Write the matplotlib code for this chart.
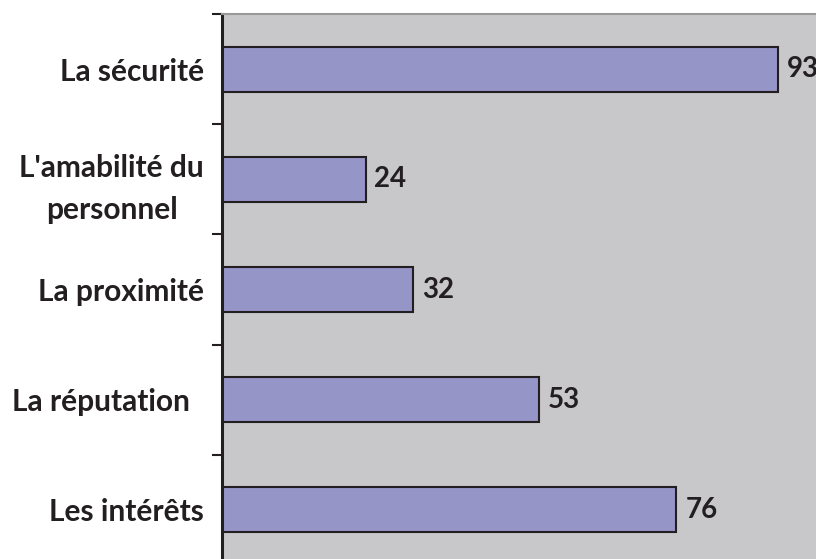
import matplotlib.pyplot as plt

categories = ["La sécurité", "L'amabilité du\npersonnel", "La proximité", "La réputation  ", "Les intérêts"]
values = [93, 24, 32, 53, 76]

fig = plt.figure(figsize=(8.16, 5.59), dpi=100)
ax = fig.add_axes([222 / 816, -6 / 559, 598 / 816, 551 / 559])
ax.set_facecolor("#c8c8ca")

pos = range(len(categories))
ax.barh(pos, values, height=0.41, color="#9595c8", edgecolor="#231f20", linewidth=1.5)

for y, v in zip(pos, values):
    ax.text(v + 1.5, y, str(v), va="center", ha="left", fontsize=20,
            fontweight="bold", family="Lato", color="#231f20")

ax.set_xlim(0, 100)
ax.set_ylim(4.5, -0.5)
ax.set_xticks([])
ax.set_yticks(list(pos))
ax.set_yticklabels(categories, fontsize=21.5, fontweight="bold", family="Lato",
                   color="#231f20", ha="right", multialignment="center",
                   linespacing=1.6)
ax.set_yticks([-0.5, 0.5, 1.5, 2.5, 3.5, 4.5], minor=True)
ax.tick_params(axis="y", which="major", length=0, pad=13)
ax.tick_params(axis="y", which="minor", length=7, width=1.5, color="#231f20", direction="out")

ax.spines["left"].set_color("#231f20")
ax.spines["left"].set_linewidth(2.2)
ax.spines["top"].set_color("#999999")
ax.spines["top"].set_linewidth(1.5)
ax.spines["right"].set_visible(False)
ax.spines["bottom"].set_visible(False)

fig.savefig("out.png", dpi=100)
